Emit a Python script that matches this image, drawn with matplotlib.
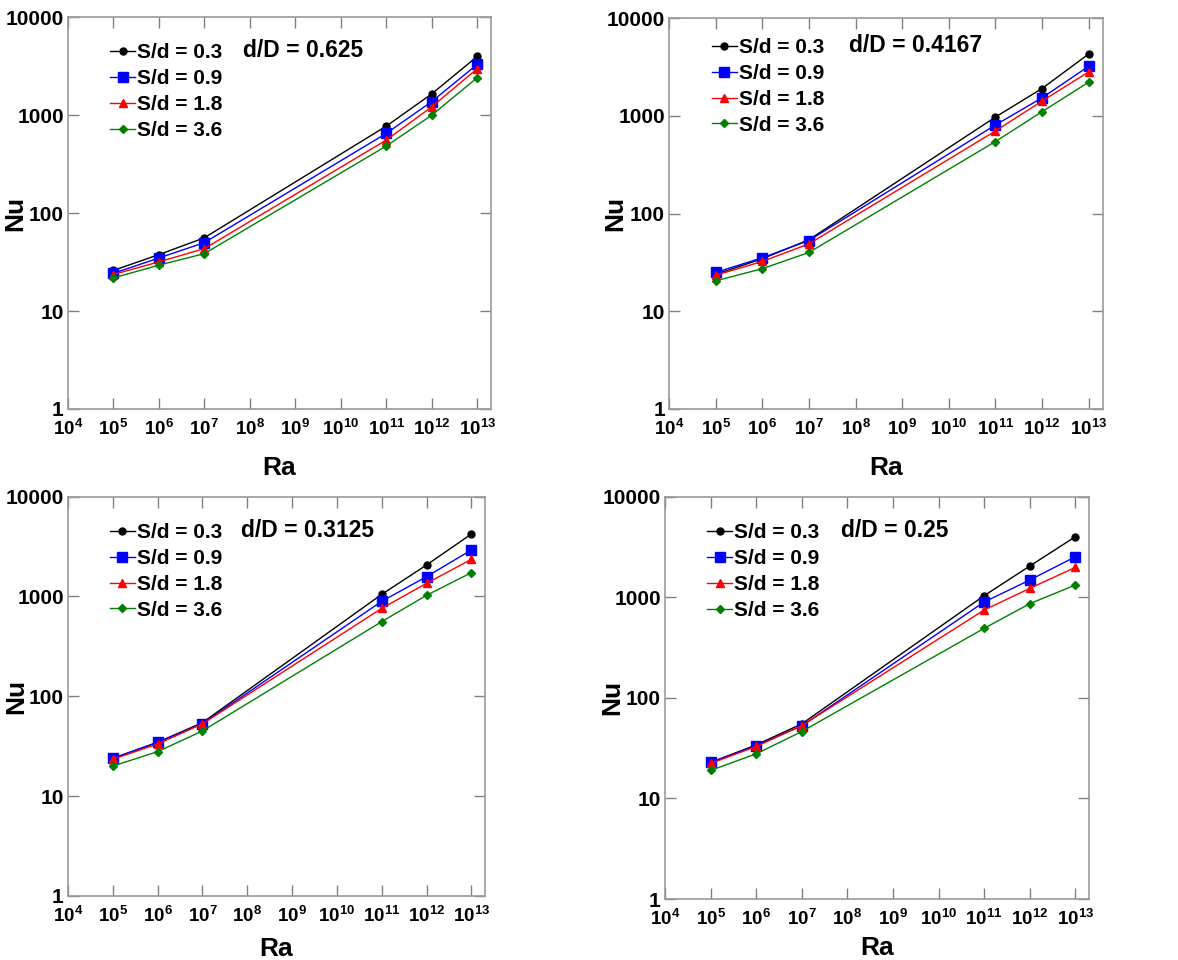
import math
import matplotlib
matplotlib.use('Agg')
import matplotlib.pyplot as plt
from matplotlib.ticker import FixedLocator, FuncFormatter, NullLocator

plt.rcParams['font.family'] = ['Liberation Sans', 'DejaVu Sans']
plt.rcParams['font.weight'] = 'bold'
plt.rcParams['mathtext.fontset'] = 'custom'
plt.rcParams['mathtext.rm'] = 'Liberation Sans:bold'
plt.rcParams['mathtext.bf'] = 'Liberation Sans:bold'
plt.rcParams['mathtext.it'] = 'Liberation Sans:bold'

# Rayleigh numbers
ra = [1e5, 1e6, 1e7, 1e11, 1e12, 1e13]
labels = ['S/d = 0.3', 'S/d = 0.9', 'S/d = 1.8', 'S/d = 3.6']
titles = ['d/D = 0.625', 'd/D = 0.4167', 'd/D = 0.3125', 'd/D = 0.25']

# Nu values, one list per S/d, for each d/D panel
nu_0625 = [
    [26, 37.7, 56, 773, 1650, 3980],
    [24.3, 34.8, 50, 651, 1377, 3300],
    [23.6, 31.8, 43.4, 557, 1216, 2983],
    [21.8, 29.4, 38.6, 484, 1000, 2415],
]
nu_04167 = [
    [23.9, 34.5, 54, 973, 1906, 4300],
    [25, 35.3, 53, 807, 1530, 3220],
    [23.4, 32.4, 49, 701, 1416, 2818],
    [20.5, 27.3, 40, 546, 1103, 2212],
]
nu_03125 = [
    [23.9, 34.6, 54.5, 1051, 2069, 4227],
    [23.9, 34.6, 53.3, 895, 1580, 2923],
    [23.4, 33.3, 53, 761, 1355, 2357],
    [20, 27.9, 45, 560, 1028, 1733],
]
nu_025 = [
    [22.8, 34.1, 55.2, 1039, 2048, 4006],
    [22.8, 33.6, 52.7, 899, 1487, 2535],
    [22.3, 32.9, 53, 748, 1228, 1986],
    [19, 27.8, 46.3, 492, 865, 1327],
]
panels = [nu_0625, nu_04167, nu_03125, nu_025]

colors = ['black', 'blue', 'red', 'green']
markers = ['o', 's', '^', 'D']
msizes = [5, 6.5, 6, 4]

positions = [
    [0.0577, 0.574, 0.359, 0.408],
    [0.568, 0.574, 0.368, 0.407],
    [0.0577, 0.0667, 0.354, 0.416],
    [0.5645, 0.0635, 0.36, 0.419],
]
# small per-panel tweaks: text y shift, Ra label position
text_dy = [0.0, 0.016, 0.0, 0.0]
ra_y = [-0.152, -0.152, -0.132, -0.122]

fig = plt.figure(figsize=(11.78, 9.6), dpi=100)

xticks = [10.0 ** k for k in range(4, 14)]
yticks = [1, 10, 100, 1000, 10000]

for i, (pos, data, title) in enumerate(zip(positions, panels, titles)):
    ax = fig.add_axes(pos)
    for vals, c, m, ms, lab in zip(data, colors, markers, msizes, labels):
        ax.plot(ra, vals, color=c, marker=m, markersize=ms, linewidth=1, label=lab)
    ax.set_xscale('log')
    ax.set_yscale('log')
    ax.set_xlim(1e4, 2e13)
    ax.set_ylim(1, 10000)
    ax.xaxis.set_major_locator(FixedLocator(xticks))
    ax.xaxis.set_minor_locator(NullLocator())
    ax.yaxis.set_major_locator(FixedLocator(yticks))
    ax.yaxis.set_minor_locator(NullLocator())
    ax.xaxis.set_major_formatter(FuncFormatter(lambda v, p: r'$\mathbf{10^{%d}}$' % round(math.log10(v))))
    ax.yaxis.set_major_formatter(FuncFormatter(lambda v, p: '%d' % v))
    ax.tick_params(which='major', direction='in', length=8, width=1, color='#808080',
                   top=True, right=True, pad=7)
    ax.tick_params(axis='x', labelsize=13.5)
    ax.tick_params(axis='y', labelsize=15, pad=3)
    for s in ax.spines.values():
        s.set_color('#999999')
        s.set_linewidth(1.2)
    ax.set_xlabel('Ra', fontsize=19, fontweight='bold')
    ax.xaxis.set_label_coords(0.5, ra_y[i])
    ax.xaxis.label.set_va('center')
    ax.set_ylabel('Nu', fontsize=19, fontweight='bold')
    ax.yaxis.set_label_coords(-0.125, 0.5)
    ax.yaxis.label.set_va('center')
    ax.text(0.415, 0.915 + text_dy[i], title, transform=ax.transAxes, fontsize=16.5,
            fontweight='bold', va='center', ha='left')
    ax.legend(loc='upper left', bbox_to_anchor=(0.07, 0.965 + text_dy[i]), frameon=False,
              prop={'size': 15, 'weight': 'bold'}, handlelength=1.2,
              handletextpad=0.1, labelspacing=0.33, borderaxespad=0.2)

fig.savefig('out.png', dpi=100)
